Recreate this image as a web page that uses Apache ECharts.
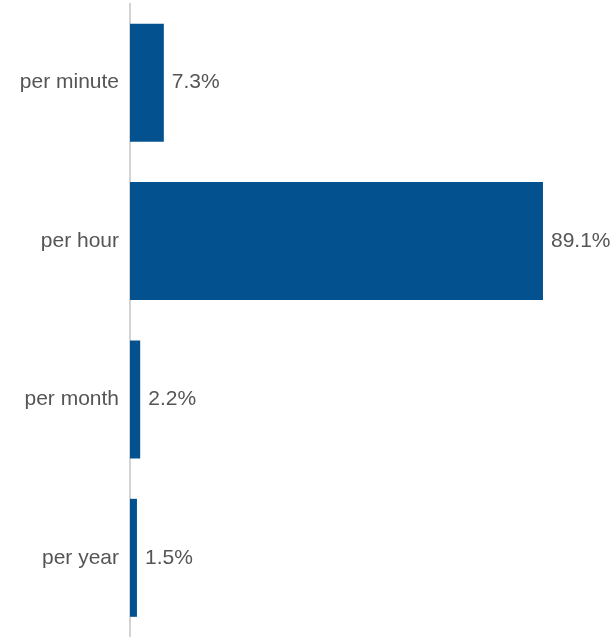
<!DOCTYPE html>
<html>
<head>
<meta charset="utf-8">
<script src="https://cdn.jsdelivr.net/npm/echarts@6/dist/echarts.min.js"></script>
<style>
  html, body { margin: 0; padding: 0; background: #fff; }
  #box { width: 616px; height: 637px; }
</style>
</head>
<body>
<div id="box"></div>
<script>
// data
const categories = ['per minute', 'per hour', 'per month', 'per year'];
const shares = [7.3, 89.1, 2.2, 1.5];

const chart = echarts.init(document.getElementById('box'));
const option = {
  animation: false,
  grid: {
    top: 3.5,
    height: 635,
    left: 130,
    width: 463.5
  },
  xAxis: {
    type: 'value',
    min: 0,
    max: 100,
    show: false
  },
  yAxis: {
    type: 'category',
    inverse: true,
    data: categories,
    axisTick: { show: false },
    axisLine: {
      lineStyle: { color: '#c4c4c4', width: 1.5 }
    },
    axisLabel: {
      color: '#555',
      fontFamily: 'Liberation Sans, Arial, sans-serif',
      fontSize: 21,
      margin: 11
    }
  },
  series: [
    {
      type: 'bar',
      data: shares,
      barWidth: 118,
      itemStyle: { color: '#03528f' },
      label: {
        show: true,
        position: 'right',
        distance: 8,
        color: '#555',
        fontFamily: 'Liberation Sans, Arial, sans-serif',
        fontSize: 21,
        formatter: p => p.value.toFixed(1) + '%'
      }
    }
  ]
};
chart.setOption(option);
</script>
</body>
</html>
